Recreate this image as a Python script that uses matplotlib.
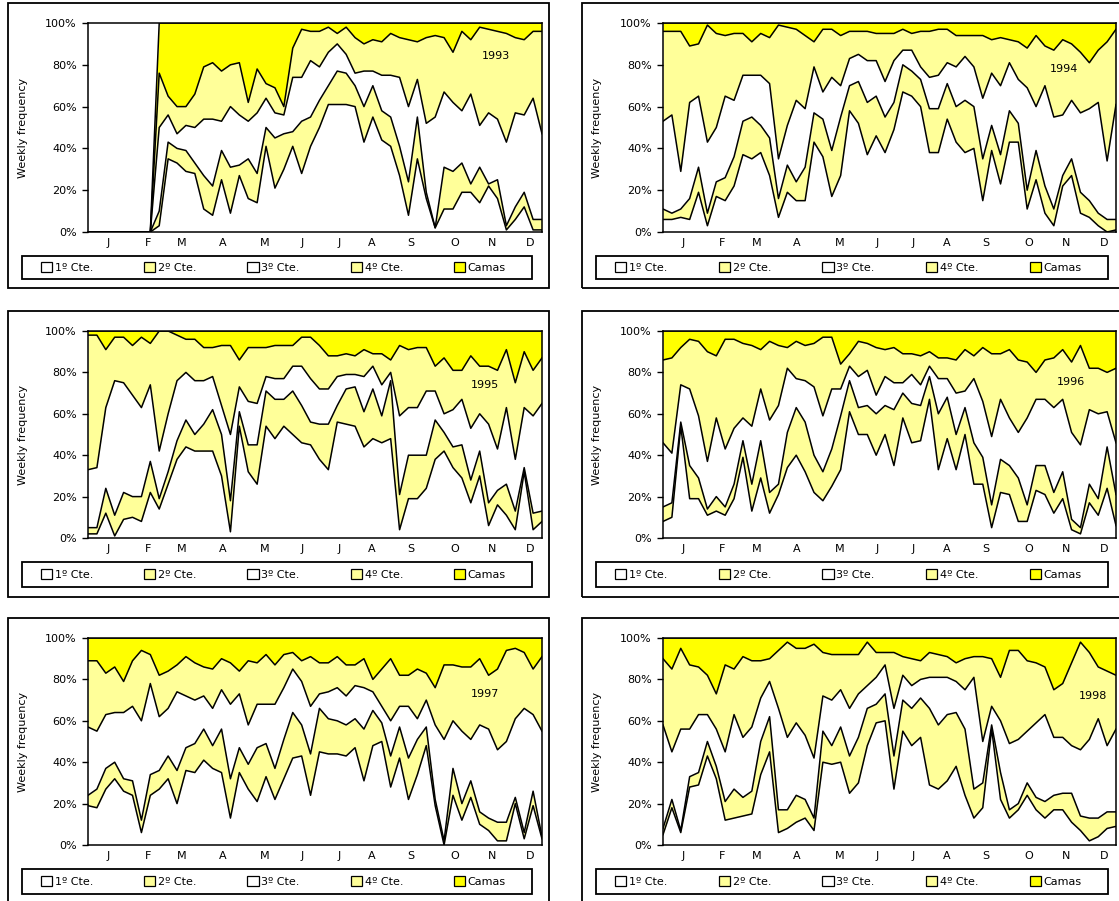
import matplotlib.pyplot as plt
from matplotlib.patches import Rectangle, Patch
import numpy as np

# Weekly share of each category, read off the picture as the cumulative
# percentage at the top of each band (1º Cte., +2º Cte., +3º Cte., +4º Cte.);
# "Camas" fills the rest up to 100 %.
weeks = np.arange(52)
months = ['J', 'F', 'M', 'A', 'M', 'J', 'J', 'A', 'S', 'O', 'N', 'D']
month_pos = [2.3, 6.7, 10.5, 15.1, 19.9, 24.1, 28.2, 31.9, 36.3, 41.2, 45.4, 49.7]
categories = ['1º Cte.', '2º Cte.', '3º Cte.', '4º Cte.', 'Camas']

c1_1993 = [0, 0, 0, 0, 0, 0, 0, 0, 3, 35, 33, 29, 28, 11, 8, 25, 9, 27, 16, 14,
           41, 21, 30, 41, 28, 41, 50, 61, 61, 61, 60, 43, 55, 44, 41, 27, 8, 35,
           16, 2, 11, 11, 19, 19, 14, 22, 16, 1, 6, 12, 1, 1]
c2_1993 = [0, 0, 0, 0, 0, 0, 0, 0, 10, 43, 40, 39, 33, 27, 22, 39, 31, 32, 35, 28,
           50, 45, 47, 48, 53, 55, 63, 70, 77, 76, 70, 60, 70, 58, 55, 41, 24, 55,
           19, 2, 31, 29, 33, 23, 31, 23, 25, 3, 12, 19, 6, 6]
c3_1993 = [0, 0, 0, 0, 0, 0, 0, 0, 50, 56, 47, 51, 50, 54, 54, 53, 60, 56, 53, 57,
           64, 57, 56, 74, 74, 82, 79, 86, 90, 85, 76, 77, 77, 75, 75, 74, 60, 73,
           52, 55, 67, 62, 58, 66, 51, 57, 54, 43, 57, 56, 64, 47]
c4_1993 = [0, 0, 0, 0, 0, 0, 0, 0, 76, 65, 60, 60, 66, 79, 81, 77, 80, 81, 62, 78,
           71, 69, 60, 88, 97, 96, 96, 98, 95, 98, 93, 90, 92, 91, 95, 93, 92, 91,
           93, 94, 93, 86, 96, 92, 98, 97, 96, 95, 93, 92, 96, 96]

c1_1994 = [6, 6, 7, 6, 19, 3, 17, 15, 22, 37, 35, 38, 27, 7, 19, 15, 15, 43, 36, 17,
           27, 58, 52, 37, 46, 38, 49, 67, 65, 60, 38, 38, 54, 43, 38, 40, 15, 39,
           23, 43, 43, 11, 25, 9, 3, 22, 27, 9, 7, 3, 0, 1]
c2_1994 = [11, 9, 11, 16, 31, 9, 24, 26, 36, 53, 55, 51, 45, 16, 32, 24, 31, 57, 54, 39,
           55, 70, 72, 62, 65, 55, 62, 80, 77, 73, 59, 59, 71, 60, 63, 60, 35, 51,
           37, 58, 52, 20, 39, 22, 11, 27, 35, 19, 15, 9, 6, 6]
c3_1994 = [53, 56, 29, 62, 65, 43, 50, 65, 63, 75, 75, 75, 71, 35, 51, 63, 59, 79, 67, 74,
           70, 83, 85, 82, 82, 72, 82, 87, 87, 79, 74, 75, 81, 79, 84, 79, 64, 76,
           70, 81, 73, 69, 60, 70, 55, 56, 63, 57, 59, 62, 34, 61]
c4_1994 = [96, 96, 96, 89, 90, 99, 95, 94, 95, 95, 91, 95, 93, 99, 98, 97, 94, 91, 97, 97,
           94, 96, 96, 96, 95, 95, 95, 97, 95, 96, 96, 97, 97, 94, 94, 94, 94, 92,
           93, 92, 91, 88, 94, 89, 87, 92, 90, 86, 81, 87, 91, 97]

c1_1995 = [2, 2, 12, 1, 9, 10, 8, 22, 14, 26, 38, 44, 42, 42, 42, 30, 3, 54, 32, 26,
           54, 48, 54, 50, 46, 45, 38, 33, 56, 55, 54, 44, 48, 46, 48, 4, 19, 19,
           24, 38, 42, 34, 29, 17, 30, 6, 16, 11, 4, 32, 4, 8]
c2_1995 = [5, 5, 24, 11, 22, 20, 20, 37, 19, 32, 47, 57, 50, 55, 62, 50, 18, 61, 45, 45,
           71, 67, 67, 71, 64, 56, 55, 55, 64, 72, 73, 61, 72, 59, 76, 21, 40, 40,
           40, 57, 51, 44, 45, 28, 42, 17, 23, 26, 13, 34, 12, 13]
c3_1995 = [33, 34, 63, 76, 75, 69, 63, 74, 42, 60, 76, 80, 76, 76, 78, 64, 50, 73, 66, 65,
           78, 77, 77, 83, 83, 77, 72, 72, 78, 79, 79, 78, 83, 74, 80, 59, 63, 63,
           71, 71, 60, 62, 67, 53, 60, 55, 43, 63, 38, 63, 59, 65]
c4_1995 = [98, 98, 91, 97, 97, 93, 97, 94, 100, 100, 98, 96, 96, 92, 92, 93, 93, 86, 92, 92,
           92, 93, 93, 93, 97, 97, 93, 88, 88, 89, 88, 91, 89, 89, 86, 93, 91, 92,
           92, 83, 87, 81, 81, 88, 83, 83, 81, 91, 75, 90, 81, 87]

c1_1996 = [8, 10, 54, 19, 19, 11, 13, 11, 19, 39, 13, 29, 12, 21, 34, 40, 32, 22, 18, 25,
           33, 61, 50, 50, 40, 50, 35, 58, 46, 47, 67, 33, 48, 33, 50, 26, 26, 5,
           22, 21, 8, 8, 23, 21, 12, 19, 4, 2, 17, 11, 24, 6]
c2_1996 = [15, 17, 56, 35, 29, 14, 20, 15, 26, 47, 26, 47, 22, 26, 51, 63, 56, 40, 32, 43,
           59, 76, 63, 64, 60, 64, 62, 70, 65, 64, 78, 60, 68, 50, 63, 46, 39, 16,
           38, 35, 29, 16, 35, 35, 22, 32, 9, 5, 26, 19, 44, 21]
c3_1996 = [46, 41, 74, 72, 59, 37, 58, 43, 53, 58, 54, 72, 57, 64, 82, 77, 76, 73, 59, 72,
           72, 83, 78, 81, 69, 78, 75, 75, 79, 74, 83, 77, 77, 70, 71, 77, 66, 49,
           67, 58, 51, 58, 67, 67, 63, 67, 51, 45, 62, 60, 61, 46]
c4_1996 = [86, 87, 92, 96, 95, 90, 88, 96, 96, 94, 93, 91, 95, 93, 92, 95, 93, 94, 97, 97,
           84, 89, 95, 94, 92, 91, 92, 89, 89, 88, 90, 87, 87, 86, 91, 88, 92, 89,
           89, 91, 86, 85, 80, 86, 87, 91, 85, 93, 82, 82, 80, 82]

c1_1997 = [19, 18, 27, 32, 26, 24, 6, 24, 27, 32, 20, 36, 35, 41, 37, 35, 13, 35, 27, 21,
           33, 22, 32, 42, 43, 24, 45, 44, 44, 43, 47, 31, 48, 50, 28, 42, 22, 34,
           48, 19, 0, 24, 12, 23, 10, 7, 2, 2, 20, 3, 19, 3]
c2_1997 = [24, 27, 37, 40, 32, 31, 12, 34, 36, 43, 36, 47, 49, 56, 48, 56, 32, 47, 39, 47,
           49, 37, 51, 64, 58, 44, 66, 61, 60, 58, 61, 56, 65, 59, 43, 57, 42, 51,
           57, 22, 2, 37, 20, 31, 16, 13, 11, 11, 23, 6, 26, 4]
c3_1997 = [57, 55, 63, 64, 64, 67, 60, 78, 62, 66, 74, 72, 70, 72, 66, 75, 68, 73, 58, 68,
           68, 68, 76, 85, 79, 67, 73, 74, 76, 72, 77, 76, 74, 67, 60, 67, 67, 61,
           70, 58, 51, 60, 55, 51, 58, 56, 46, 50, 61, 66, 63, 55]
c4_1997 = [89, 89, 83, 86, 79, 89, 94, 92, 82, 84, 87, 91, 88, 86, 85, 90, 88, 84, 89, 88,
           92, 87, 92, 93, 89, 91, 88, 88, 91, 87, 87, 90, 80, 85, 90, 82, 82, 85,
           83, 76, 87, 87, 86, 86, 90, 82, 85, 94, 95, 93, 85, 91]

c1_1998 = [5, 18, 6, 28, 29, 43, 32, 12, 13, 14, 15, 34, 45, 6, 8, 11, 13, 7, 40, 39,
           40, 25, 30, 48, 59, 60, 27, 55, 48, 52, 29, 27, 31, 38, 24, 13, 18, 56,
           22, 13, 17, 24, 17, 13, 17, 17, 11, 7, 2, 4, 8, 9]
c2_1998 = [8, 22, 7, 33, 35, 50, 38, 21, 27, 23, 26, 50, 62, 17, 17, 24, 22, 13, 55, 48,
           57, 43, 52, 66, 68, 73, 43, 70, 66, 71, 66, 58, 63, 64, 56, 27, 30, 58,
           35, 17, 20, 30, 23, 21, 24, 25, 25, 14, 13, 13, 16, 16]
c3_1998 = [58, 45, 56, 56, 63, 63, 56, 45, 63, 52, 57, 71, 79, 66, 52, 59, 53, 42, 72, 70,
           75, 66, 73, 77, 81, 87, 66, 82, 77, 80, 81, 81, 81, 79, 75, 81, 50, 67,
           60, 49, 51, 55, 59, 63, 52, 52, 48, 46, 51, 61, 48, 56]
c4_1998 = [90, 85, 95, 87, 86, 82, 73, 87, 85, 91, 89, 89, 90, 94, 98, 95, 95, 97, 93, 92,
           92, 92, 92, 98, 93, 93, 93, 91, 90, 89, 93, 92, 91, 88, 90, 91, 91, 90,
           81, 94, 94, 89, 88, 86, 75, 78, 88, 98, 93, 86, 84, 82]

years = [1993, 1994, 1995, 1996, 1997, 1998]
series = {
    1993: (c1_1993, c2_1993, c3_1993, c4_1993),
    1994: (c1_1994, c2_1994, c3_1994, c4_1994),
    1995: (c1_1995, c2_1995, c3_1995, c4_1995),
    1996: (c1_1996, c2_1996, c3_1996, c4_1996),
    1997: (c1_1997, c2_1997, c3_1997, c4_1997),
    1998: (c1_1998, c2_1998, c3_1998, c4_1998),
}

LIGHT = '#ffff99'
YELLOW = '#ffff00'
colors = ['white', LIGHT, 'white', LIGHT, YELLOW]

# layout in pixels (figure is 1119 x 901)
W, H = 1119, 901
col_plot = [(88, 542), (663, 1116)]
col_frame = [(8, 549), (582, 1140)]
col_leg = [(22, 532), (596, 1108)]
row_plot = [(23, 232), (331, 538), (638, 845)]
row_frame = [(3, 288), (311, 597), (618, 915)]
row_leg = [(256, 279), (562, 587), (869, 894)]
year_xy = {1993: (0.898, 0.84), 1994: (0.886, 0.78), 1995: (0.874, 0.74),
           1996: (0.90, 0.755), 1997: (0.874, 0.73), 1998: (0.949, 0.72)}

plt.rcParams['font.family'] = ['DejaVu Sans']
fig = plt.figure(figsize=(W / 100, H / 100), dpi=100)


def fig_rect(x0, x1, y0, y1):
    return (x0 / W, 1 - y1 / H, (x1 - x0) / W, (y1 - y0) / H)


for k, year in enumerate(years):
    col, row = k % 2, k // 2
    px0, px1 = col_plot[col]
    py0, py1 = row_plot[row]

    # outer frame and legend box
    fx, fy, fw, fh = fig_rect(*col_frame[col], *row_frame[row])
    fig.add_artist(Rectangle((fx, fy), fw, fh, transform=fig.transFigure,
                             fill=False, ec='black', lw=1.3))
    lx, ly, lw_, lh = fig_rect(*col_leg[col], *row_leg[row])
    fig.add_artist(Rectangle((lx, ly), lw_, lh, transform=fig.transFigure,
                             fill=False, ec='black', lw=1.3))

    ax = fig.add_axes(fig_rect(px0, px1, py0, py1))
    b1, b2, b3, b4 = [np.array(s, dtype=float) for s in series[year]]
    top = np.where(b4 > 0, 100.0, 0.0)

    # bands
    ax.fill_between(weeks, b1, b2, color=LIGHT, lw=0)
    ax.fill_between(weeks, b3, b4, color=LIGHT, lw=0)
    ax.fill_between(weeks, b4, top, color=YELLOW, lw=0)
    for line in (b1, b2, b3, b4, top):
        ax.plot(weeks, line, color='black', lw=1.1)

    ax.set_xlim(0, 51)
    ax.set_ylim(0, 100)
    ax.set_yticks(range(0, 101, 20))
    ax.set_yticklabels([f'{v}%' for v in range(0, 101, 20)], fontsize=8)
    ax.set_xticks(month_pos)
    ax.set_xticklabels(months, fontsize=8)
    ax.tick_params(axis='y', length=4, width=1, pad=4)
    ax.tick_params(axis='x', length=0, pad=4)
    for sp in ax.spines.values():
        sp.set_linewidth(1.1)
    ax.set_ylabel('Weekly frequency', fontsize=8)
    ax.yaxis.set_label_coords(-(px0 - col_frame[col][0] - 20) / (px1 - px0), 0.5)

    tx, ty = year_xy[year]
    ax.text(tx, ty, str(year), transform=ax.transAxes, fontsize=8,
            ha='center', va='center')

    # legend
    handles = [Patch(facecolor=c, edgecolor='black', lw=0.9) for c in colors]
    lx0, lx1 = col_leg[col]
    ly0, ly1 = row_leg[row]
    ax.legend(handles, categories, ncol=5, mode='expand', loc='center',
              bbox_to_anchor=fig_rect(lx0 + 19, lx1 - 26, ly0, ly1),
              bbox_transform=fig.transFigure, frameon=False, fontsize=8,
              handlelength=1.0, handleheight=1.0, handletextpad=0.25,
              borderaxespad=0, borderpad=0)

plt.savefig('out.png', dpi=100)
